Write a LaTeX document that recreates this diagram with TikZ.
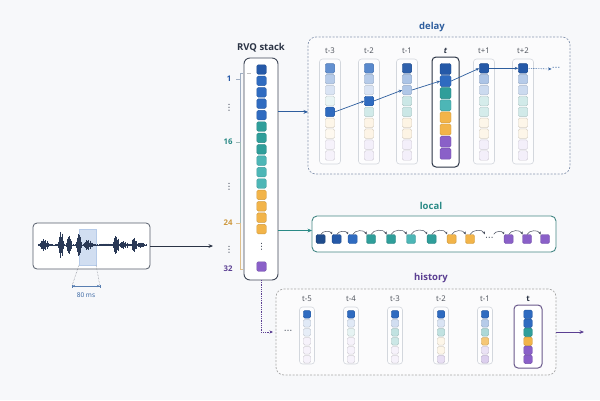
\documentclass[tikz,border=0pt]{standalone}
\usepackage{fontspec}
\setmainfont{Open Sans}
\newfontfamily\sym{DejaVu Sans}
\usetikzlibrary{arrows.meta,calc}

\definecolor{bg}{HTML}{F7F8FA}
\definecolor{cB}{HTML}{2F6BC0}
\definecolor{cBd}{HTML}{2559A8}
\definecolor{cN}{HTML}{1F4C8C}
\definecolor{cT}{HTML}{2F9E9A}
\definecolor{cTl}{HTML}{4DB6B6}
\definecolor{cO}{HTML}{F2B449}
\definecolor{cP}{HTML}{8A60C8}
\definecolor{ink}{HTML}{2B3445}
\definecolor{wavec}{HTML}{2A3956}
\definecolor{dblue}{HTML}{2E5E9E}
\definecolor{lteal}{HTML}{2A8A86}
\definecolor{hpur}{HTML}{5B3F92}
\definecolor{framec}{HTML}{D3D7DD}
\definecolor{lbl}{HTML}{4A4F58}
\definecolor{dashc}{HTML}{8796B0}

\newcommand\sqr[6]{\node[sqb,minimum size=#6pt,fill=#4!#5!white,draw=#4!#5!white!85!black] (#1) at (#2,{#3}) {};}

\tikzset{
  declare function={bump(\u,\c,\w)=max(0,1-((\u-\c)/\w)^2);},
  sqb/.style={rectangle,rounded corners=1.5pt,inner sep=0pt,outer sep=0pt,line width=0.45pt},
  colframe/.style={rectangle,rounded corners=3pt,draw=framec,fill=white!70!bg,line width=0.6pt,inner sep=0pt,outer sep=0pt},
  tframe/.style={rectangle,rounded corners=4pt,draw=#1,fill=white,line width=1pt,inner sep=0pt,outer sep=0pt},
  bigbox/.style={rectangle,inner sep=0pt,outer sep=0pt},
  title/.style={font=\fontsize{9.5}{10}\selectfont\bfseries,inner sep=0pt},
  clbl/.style={font=\fontsize{7.8}{8}\selectfont,text=lbl,inner sep=0pt},
  scl/.style={font=\fontsize{7.8}{8}\selectfont\bfseries,inner sep=0pt},
  dotsn/.style={font=\sym\fontsize{8.5}{8.5}\selectfont,text=ink,inner sep=0pt},
  tip/.style={-{Stealth[length=4.5pt,width=3.8pt]}},
  smalltip/.style={-{Stealth[length=3.5pt,width=3pt]}},
  darr/.style={smalltip,dblue,line width=0.7pt},
  larc/.style={-{Stealth[length=2.8pt,width=2.6pt]},draw=ink!85,line width=0.5pt},
}

\begin{document}
\begin{tikzpicture}[x=1pt,y=-1pt]
\fill[bg] (0,0) rectangle (600,400);
\useasboundingbox (0,0) rectangle (600,400);

% ---------------- waveform ----------------
\node[bigbox,draw=ink!80,fill=white,rounded corners=4pt,line width=0.8pt,minimum width=117pt,minimum height=46pt] (wave) at (91.5,246) {};
\node[bigbox,fill=cB!22!white,draw=cB!35!white,line width=0.4pt,minimum width=17pt,minimum height=36pt] (hl) at (87.5,247) {};
\draw[wavec,line width=0.35pt] (38,245) -- (146,245);
\foreach \x in {38,38.7,...,146}{
  \pgfmathsetmacro\a{(0.6+5*bump(\x,44,5)+13*bump(\x,61,3)+9*bump(\x,69,2.8)+11*bump(\x,79,3)+4.5*bump(\x,88,5)+0.8*bump(\x,106,8)+9*bump(\x,116,3)+3*bump(\x,124,5)+7*bump(\x,134,2.8)+2*bump(\x,141,4))*(0.45+0.55*abs(sin(\x*97)))}
  \draw[wavec,line width=0.55pt] (\x,{245-\a}) -- (\x,{245+\a});
}
\coordinate (m1) at (72,286);
\coordinate (m2) at (100,286);
\draw[ink!60,densely dotted,line width=0.5pt] (hl.south west) -- (m1);
\draw[ink!60,densely dotted,line width=0.5pt] (hl.south east) -- (m2);
\draw[{Bar[width=3pt]Stealth[length=2.5pt,width=2.2pt]}-{Stealth[length=2.5pt,width=2.2pt]Bar[width=3pt]},dblue!80,line width=0.5pt] (m1) -- (m2);
\node[font=\fontsize{6.5}{7}\selectfont,text=dblue,inner sep=0pt] (ms) at (86,295) {80 ms};

% ---------------- RVQ stack ----------------
\node[title,text=ink] (stt) at (261,48) {RVQ stack};
\node[bigbox,draw=ink!90,fill=white,rounded corners=6pt,line width=0.9pt,minimum width=34pt,minimum height=222pt] (stack) at (261,169) {};
\foreach \r/\c in {1/cBd,2/cB,3/cB,4/cB,5/cB,6/cT,7/cT,8/cT,9/cTl,10/cTl,11/cTl,12/cO,13/cO,14/cO,15/cO}
  {\sqr{s\r}{261.5}{69.5+11.4*(\r-1)}{\c}{100}{9.5}}
\node[dotsn] (sdots) at (261.5,247) {⋮};
\sqr{s32}{261.5}{266.5}{cP}{100}{9.5}

% scale
\draw[line width=0.6pt,draw=cB!40!gray!60] (243,73) -- (240,73) -- (240,142);
\draw[line width=0.6pt,draw=cT!40!gray!60] (240,142) -- (240,223);
\draw[line width=0.6pt,draw=cO!70!gray!70] (240,223) -- (240,269) -- (243,269);
\draw[line width=0.6pt,draw=cB!40!gray!60] (236,79) -- (240,79);
\draw[line width=0.6pt,draw=cT!40!gray!60] (236,142) -- (240,142);
\draw[line width=0.6pt,draw=cO!70!gray!70] (236,223) -- (240,223);
\draw[line width=0.6pt,draw=gray!50] (247,73) -- (251,73);
\node[scl,text=cBd] (n1) at (229,79) {1};
\node[dotsn] (v1) at (229,108) {⋮};
\node[scl,text=lteal] (n16) at (228,142) {16};
\node[dotsn] (v2) at (229,187) {⋮};
\node[scl,text=cO!85!black] (n24) at (228,223) {24};
\node[dotsn] (v3) at (229,250) {⋮};
\node[scl,text=hpur] (n32) at (228,269) {32};

\coordinate (wend) at (213,246);
\draw[tip,ink,line width=0.9pt] (wave.east) -- (wend);

% ---------------- delay ----------------
\node[title,text=dblue] (dtitle) at (432,27) {delay};
\node[bigbox,draw=dashc,dash pattern=on 2pt off 1.5pt,fill=white!50!bg,rounded corners=8pt,line width=0.7pt,minimum width=262pt,minimum height=137pt] (delay) at (439,105.5) {};
\foreach \i/\x in {1/330,2/369,3/407,5/484,6/523}
  {\node[colframe,minimum width=21pt,minimum height=105pt] (df\i) at (\x,111.5) {};}
\node[tframe=ink,minimum width=27pt,minimum height=110pt] (df4) at (445.5,112) {};
\foreach \i/\x/\t in {1/330/t-3,2/369/t-2,3/407/t-1,5/484/t+1,6/523/t+2}
  {\node[clbl] (dl\i) at (\x,51) {\t};}
\node[clbl,text=ink,font=\fontsize{8}{8}\selectfont\bfseries\itshape] (dl4) at (445.5,51) {t};

\foreach \r/\c/\p in {1/cB/75,2/cB/35,3/cB/18,4/cT/10,5/cB/100,6/cO/12,7/cO/8,8/cP/8,9/cP/8}
  {\sqr{d1r\r}{330}{68.3+10.9*(\r-1)}{\c}{\p}{9.5}}
\foreach \r/\c/\p in {1/cB/80,2/cB/35,3/cB/18,4/cB/100,5/cT/22,6/cO/14,7/cO/14,8/cP/10,9/cP/10}
  {\sqr{d2r\r}{369}{68.3+10.9*(\r-1)}{\c}{\p}{9.5}}
\foreach \r/\c/\p in {1/cBd/95,2/cB/40,3/cB/38,4/cT/25,5/cT/25,6/cO/15,7/cO/15,8/cP/10,9/cP/10}
  {\sqr{d3r\r}{407}{68.3+10.9*(\r-1)}{\c}{\p}{9.5}}
\foreach \r/\c/\p in {1/cBd/100,2/cB/100,3/cT/100,4/cTl/100,5/cO/100,6/cO/100,7/cP/100,8/cP/100}
  {\sqr{d4r\r}{445.5}{69+12.1*(\r-1)}{\c}{\p}{11}}
\foreach \r/\c/\p in {1/cBd/100,2/cB/40,3/cB/25,4/cT/20,5/cT/20,6/cO/12,7/cO/12,8/cP/10,9/cP/10}
  {\sqr{d5r\r}{484}{68.3+10.9*(\r-1)}{\c}{\p}{9.5}}
\foreach \r/\c/\p in {1/cBd/100,2/cB/35,3/cB/25,4/cT/22,5/cT/22,6/cO/12,7/cO/12,8/cP/10,9/cP/10}
  {\sqr{d6r\r}{523}{68.3+10.9*(\r-1)}{\c}{\p}{9.5}}
\node[dotsn,text=dblue] (ddots) at (556,69) {⋯};

\draw[darr] (d1r5.east) -- (d2r4.west);
\draw[darr] (d2r4.east) -- (d3r3.west);
\draw[darr] (d3r3.east) -- (d4r2.west);
\draw[darr] (d4r2.east) -- (d5r1.west);
\draw[darr] (d5r1.east) -- (d6r1.west);
\draw[darr,densely dotted,line width=0.6pt] (d6r1.east) -- (ddots.west);

\draw[tip,dblue,line width=0.9pt] (stack.east |- d1r5) -- (delay.west |- d1r5);

% ---------------- local ----------------
\node[title,text=lteal] (ltitle) at (431,206) {local};
\node[bigbox,draw=lteal!70!gray,fill=white,rounded corners=5pt,line width=0.9pt,minimum width=244pt,minimum height=36pt] (local) at (434,234) {};
\foreach \i/\x/\c in {1/320.7/cN,2/336.7/cBd,3/352.7/cB,4/371/cT,5/391/cT,6/411/cTl,7/431.7/cT,8/451.7/cO,9/470/cO,10/508.7/cP,11/527/cP,12/545/cP}
  {\sqr{l\i}{\x}{239}{\c}{100}{9}}
\node[dotsn,minimum height=9pt] (ldots) at (489.3,239) {⋯};
\foreach \a/\b in {1/2,2/3,3/4,4/5,5/6,6/7,7/8,8/9,10/11,11/12}
  {\draw[larc] (l\a.north) to[out=65,in=115] (l\b.north west);}
\draw[larc] (l9.north) to[out=65,in=115] (ldots.north west);
\draw[larc] (ldots.north east) to[out=65,in=115] (l10.north west);
\coordinate (lin) at ($(local.west)+(0,-3.5)$);
\draw[tip,lteal,line width=0.9pt] (stack.east |- lin) -- (lin);

% ---------------- history ----------------
\node[title,text=hpur] (htitle) at (431,278) {history};
\node[bigbox,draw=gray!70,dash pattern=on 2pt off 1.5pt,fill=white!50!bg,rounded corners=8pt,line width=0.7pt,minimum width=280pt,minimum height=86pt] (hist) at (416,332) {};
\foreach \i/\x in {1/307,2/351,3/395,4/441,5/485}
  {\node[colframe,minimum width=15pt,minimum height=57pt] (hf\i) at (\x,335.5) {};}
\node[tframe=hpur!60!gray,minimum width=28pt,minimum height=63pt] (hf6) at (528,336.5) {};
\foreach \i/\x/\t in {1/307/t-5,2/351/t-4,3/395/t-3,4/441/t-2,5/485/t-1}
  {\node[clbl] (hl\i) at (\x,299) {\t};}
\node[clbl,text=ink,font=\fontsize{8}{8}\selectfont\bfseries] (hl6) at (528,299) {t};
\foreach \r/\c/\p in {1/cB/100,2/cB/15,3/cB/12,4/cP/8,5/cP/8,6/cP/8}
  {\sqr{h1r\r}{307}{314.3+9*(\r-1)}{\c}{\p}{7.5}}
\foreach \r/\c/\p in {1/cB/100,2/cB/15,3/cT/12,4/cP/8,5/cP/8,6/cP/8}
  {\sqr{h2r\r}{351}{314.3+9*(\r-1)}{\c}{\p}{7.5}}
\foreach \r/\c/\p in {1/cB/100,2/cB/22,3/cT/30,4/cT/25,5/cP/8,6/cP/8}
  {\sqr{h3r\r}{395}{314.3+9*(\r-1)}{\c}{\p}{7.5}}
\foreach \r/\c/\p in {1/cB/100,2/cB/18,3/cT/30,4/cO/12,5/cO/12,6/cP/20}
  {\sqr{h4r\r}{441}{314.3+9*(\r-1)}{\c}{\p}{7.5}}
\foreach \r/\c/\p in {1/cB/100,2/cB/35,3/cT/40,4/cO/75,5/cP/18,6/cP/30}
  {\sqr{h5r\r}{485}{314.3+9*(\r-1)}{\c}{\p}{7.5}}
\foreach \r/\c/\p in {1/cB/100,2/cB/100,3/cT/100,4/cO/100,5/cP/100,6/cP/100}
  {\sqr{h6r\r}{528}{314.3+9*(\r-1)}{\c}{\p}{8.5}}
\node[dotsn] (hdots) at (288,332) {⋯};
\coordinate (hin) at (273,332);
\coordinate (hout) at (584,332);
\draw[smalltip,hpur,densely dotted,line width=0.8pt] (stack.south) |- (hin);
\draw[tip,hpur,line width=0.9pt] (hist.east) -- (hout);
\end{tikzpicture}
\end{document}
